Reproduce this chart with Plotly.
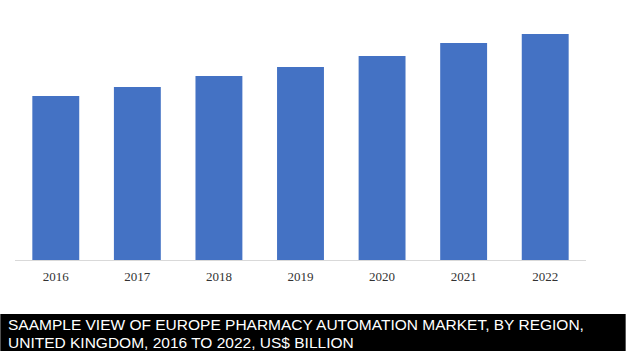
import plotly.graph_objects as go

years = ["2016", "2017", "2018", "2019", "2020", "2021", "2022"]
values = [1.64, 1.73, 1.84, 1.93, 2.04, 2.17, 2.26]
title_lines = ["SAAMPLE VIEW OF EUROPE PHARMACY AUTOMATION MARKET, BY REGION,",
               "UNITED KINGDOM, 2016 TO 2022, US$ BILLION"]

W, H = 626, 351
L, R, T, B = 14.7, 39.7, 10, 91
pw, ph = W - L - R, H - T - B

def px_x(x):
    return (x - L) / pw

def px_y(y):
    return (H - B - y) / ph

fig = go.Figure()
fig.add_trace(go.Bar(x=years, y=values, marker=dict(color="#4472C4", line=dict(width=0))))

fig.add_shape(type="rect", xref="paper", yref="paper",
              x0=px_x(0), x1=px_x(626), y0=px_y(314), y1=px_y(352),
              fillcolor="#000000", line=dict(width=0), layer="above")

for i, line in enumerate(title_lines):
    fig.add_annotation(xref="paper", yref="paper", x=px_x(6), y=px_y(314 + 18 * i),
                       xanchor="left", yanchor="top", align="left", showarrow=False,
                       text=line,
                       font=dict(family="Liberation Sans, Arial", size=15.5, color="#ffffff"))

fig.update_layout(
    width=W, height=H,
    margin=dict(l=L, r=R, t=T, b=B, pad=0),
    paper_bgcolor="#ffffff", plot_bgcolor="#ffffff",
    bargap=0.425,
    showlegend=False,
    xaxis=dict(showline=True, linecolor="#d9d9d9", linewidth=1, showgrid=False,
               ticks="", ticklabelstandoff=4,
               tickfont=dict(family="Liberation Serif, Times New Roman", size=13, color="#333333"),
               fixedrange=True),
    yaxis=dict(range=[0, 2.5], showgrid=False, showticklabels=False, zeroline=False,
               showline=False, fixedrange=True),
)

fig.write_html("out.html")
